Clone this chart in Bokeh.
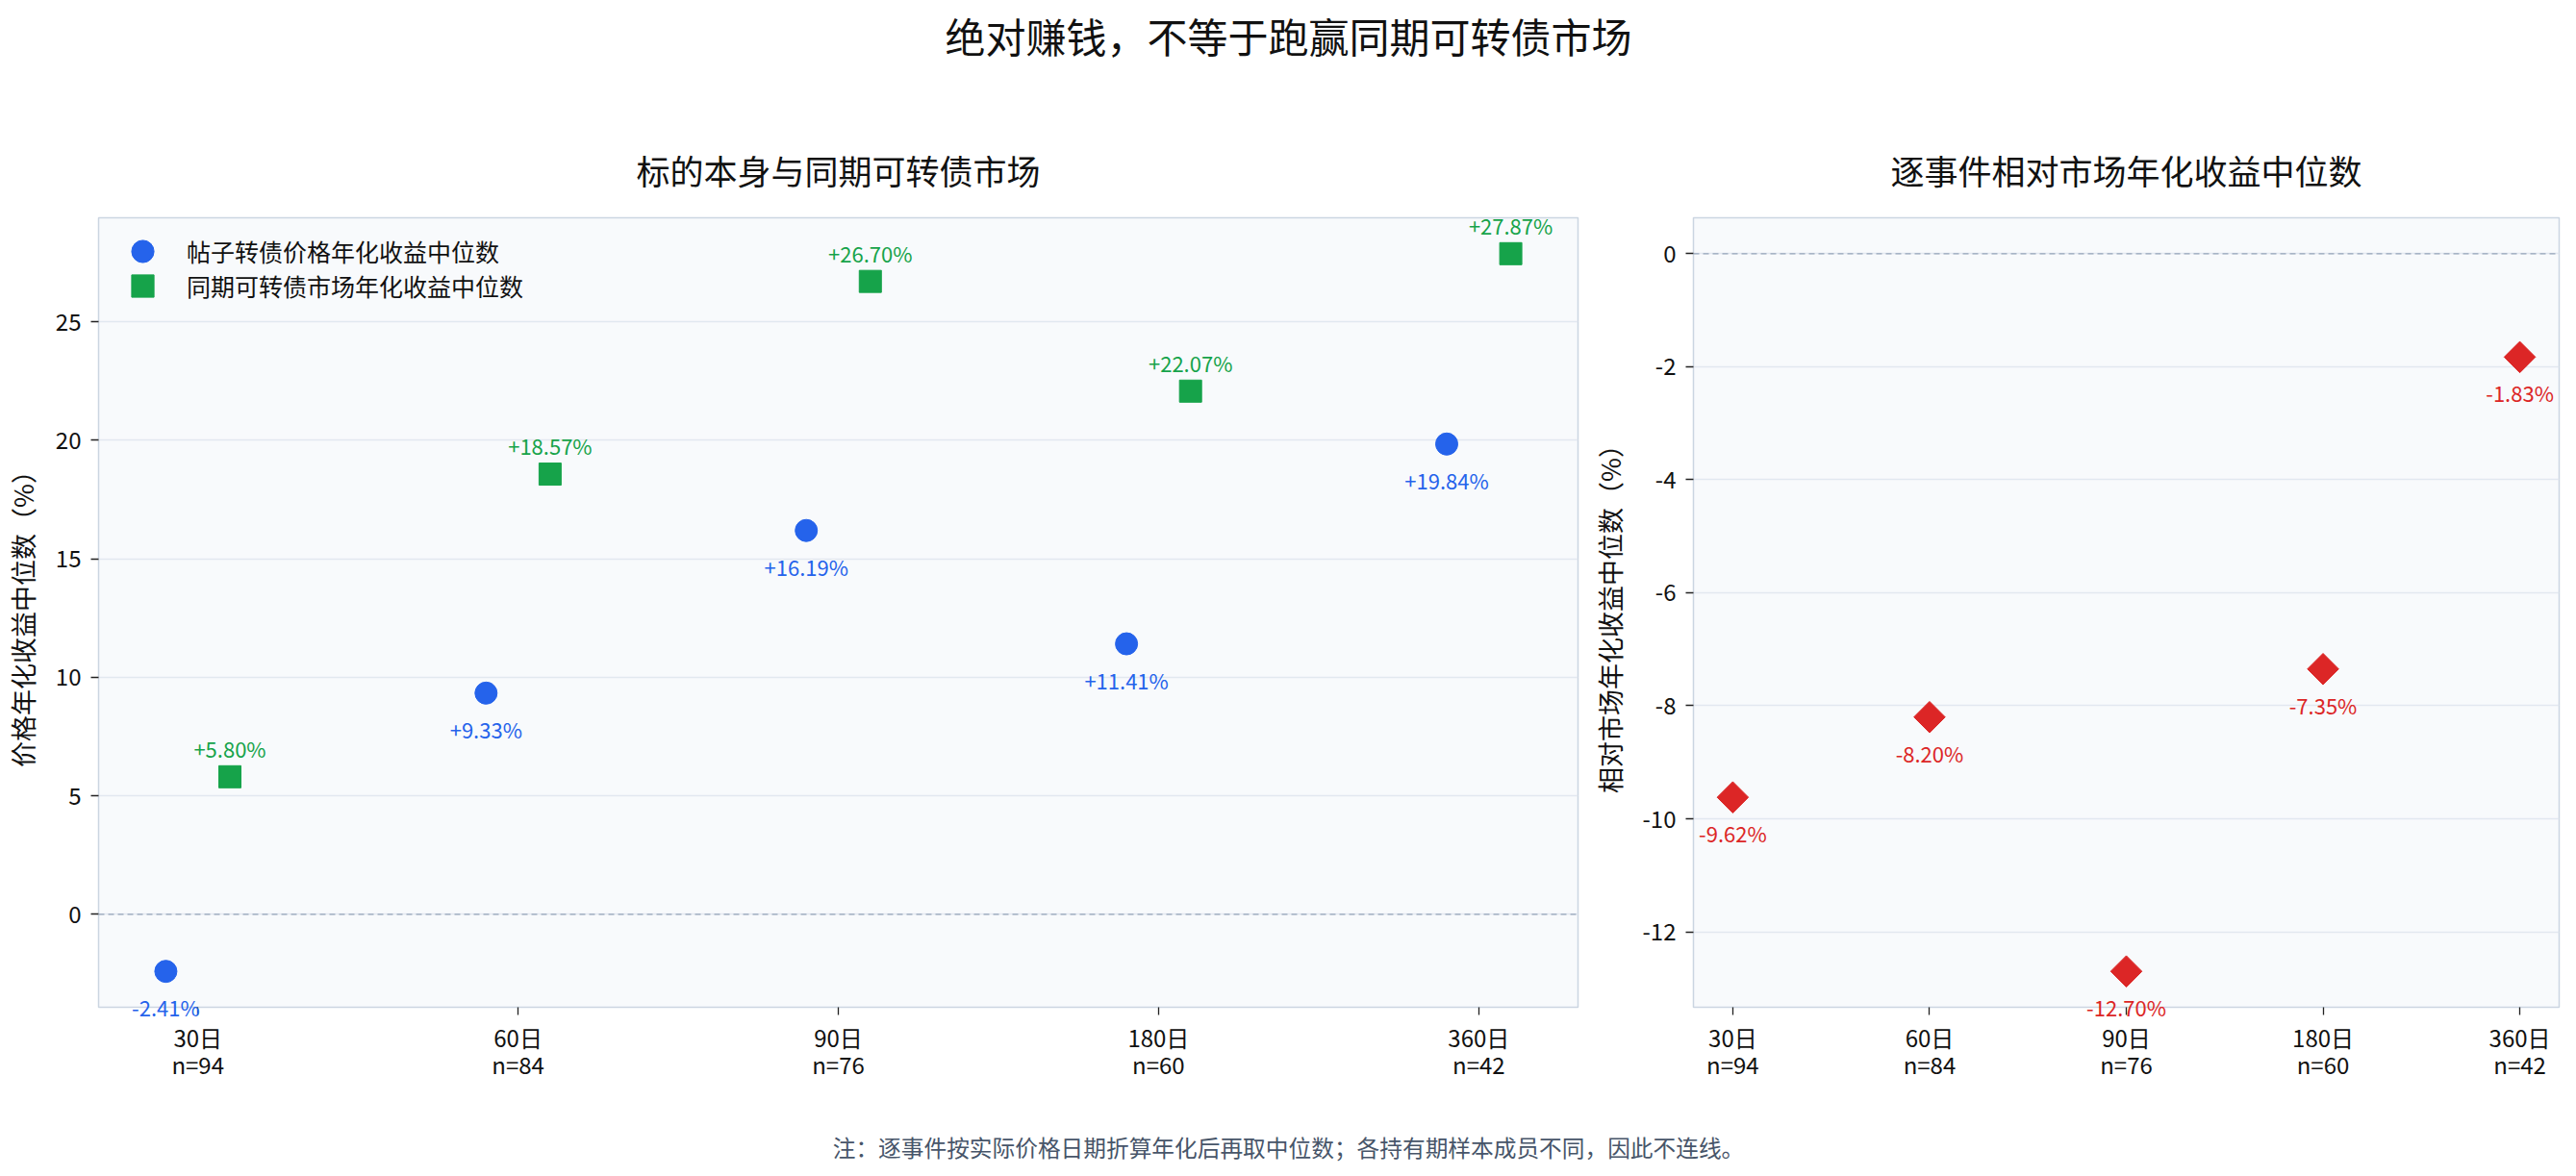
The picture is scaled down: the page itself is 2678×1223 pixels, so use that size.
import numpy as np
from bokeh.plotting import figure
from bokeh.models import (ColumnDataSource, Label, Span, FixedTicker, Range1d,
                          Legend, LegendItem, Title)
from bokeh.layouts import column, row
from bokeh.embed import file_html
from bokeh.resources import INLINE
from bokeh.core.properties import value

# ---------------- data ----------------
periods = ["30日", "60日", "90日", "180日", "360日"]
sample_sizes = [94, 84, 76, 60, 42]
price_median = [-2.41, 9.33, 16.19, 11.41, 19.84]
market_median = [5.80, 18.57, 26.70, 22.07, 27.87]
relative_median = [-9.62, -8.20, -12.70, -7.35, -1.83]
left_yticks = [0, 5, 10, 15, 20, 25]
right_yticks = [0, -2, -4, -6, -8, -10, -12]

main_title = "绝对赚钱，不等于跑赢同期可转债市场"
left_title = "标的本身与同期可转债市场"
right_title = "逐事件相对市场年化收益中位数"
left_ylabel = "价格年化收益中位数（%）"
right_ylabel = "相对市场年化收益中位数（%）"
price_legend = "帖子转债价格年化收益中位数"
market_legend = "同期可转债市场年化收益中位数"
footnote = "注：逐事件按实际价格日期折算年化后再取中位数；各持有期样本成员不同，因此不连线。"

# ---------------- style ----------------
FONT = "Noto Sans CJK SC"
BLUE = "#2563eb"
GREEN = "#16a34a"
RED = "#dc2626"
TOTAL_W = 2678
TOTAL_H = 1223
TITLE_H = 78
TOP_B = 148
FRAME_H = 821
BOT_B = 125
ROW_H = TOP_B + FRAME_H + BOT_B
FOOT_H = TOTAL_H - TITLE_H - ROW_H
FOOT_CENTER = 1192
LEFT_W = 1650
RIGHT_W = TOTAL_W - LEFT_W
DODGE = 0.1
TITLE_STANDOFF = 50


def padded(lo, hi, frac=0.05):
    span = hi - lo
    return lo - frac * span, hi + frac * span


def fmt(v):
    return f"{v:+.2f}%"


pos = np.arange(len(periods), dtype=float)
tick_labels = {i: f"{periods[i]}\nn={sample_sizes[i]}" for i in range(len(periods))}


def style(p, yticks, title_text):
    p.background_fill_color = "#f8fafc"
    p.border_fill_color = "white"
    p.outline_line_color = "#cbd5e1"
    p.outline_line_width = 1.5
    p.xgrid.visible = False
    p.ygrid.grid_line_color = "#e2e8f0"
    p.ygrid.grid_line_width = 1.3
    p.xaxis.ticker = FixedTicker(ticks=list(pos))
    p.xaxis.major_label_overrides = tick_labels
    p.yaxis.ticker = FixedTicker(ticks=yticks)
    p.yaxis.major_label_overrides = {t: f"{t:g}" for t in yticks}
    for ax in p.axis:
        ax.axis_line_color = None
        ax.major_tick_out = 8
        ax.major_tick_in = 0
        ax.minor_tick_line_color = None
        ax.major_tick_line_color = "#222222"
        ax.major_tick_line_width = 1.3
        ax.major_label_text_font = FONT
        ax.major_label_text_font_size = "24px"
        ax.major_label_text_color = "#111111"
        ax.axis_label_text_font = FONT
        ax.axis_label_text_font_size = "27px"
        ax.axis_label_text_font_style = "normal"
        ax.axis_label_text_color = "#111111"
    p.xaxis.major_label_standoff = 5
    p.xaxis.major_label_text_line_height = 0.82
    p.yaxis.major_label_standoff = 10
    p.yaxis.axis_label_standoff = 12
    # title first in the top panel, so it stays next to the frame
    p.add_layout(Title(text=title_text, align="center", text_font=FONT,
                       text_font_size="35px", text_font_style="normal",
                       text_color="#111111", standoff=TITLE_STANDOFF), "above")
    p.add_layout(Span(location=0, dimension="width", line_color="#94a3b8",
                      line_dash="6 4", line_width=1.3))


def add_labels(p, xs, ys, color, offset):
    """Value labels. A label that would cross the frame edge is put in the side
    panel on that edge so it is not clipped; it is still placed with the data scales."""
    lo, hi = p.y_range.start, p.y_range.end
    for x, y in zip(xs, ys):
        lab = Label(x=x, y=y, text=fmt(y), y_offset=offset,
                    text_align="center", text_baseline="middle",
                    text_font=FONT, text_font_size="22px", text_color=color)
        sy = (y - lo) / (hi - lo) * FRAME_H + offset
        if sy > FRAME_H - 14:
            p.add_layout(lab, "above")
        elif sy < 14:
            p.add_layout(lab, "below")
        else:
            p.add_layout(lab)


# ---------------- left chart ----------------
all_left = price_median + market_median + [0]
p1 = figure(width=LEFT_W, height=ROW_H, output_backend="svg", toolbar_location=None,
            title=None,
            x_range=Range1d(*padded(pos.min() - DODGE, pos.max() + DODGE)),
            y_range=Range1d(*padded(min(all_left), max(all_left))),
            min_border_left=102, min_border_right=10, min_border_top=TOP_B,
            min_border_bottom=BOT_B)
p1.yaxis.axis_label = left_ylabel
style(p1, left_yticks, left_title)

src_price = ColumnDataSource(dict(x=pos - DODGE, y=price_median))
src_market = ColumnDataSource(dict(x=pos + DODGE, y=market_median))

r_price = p1.scatter("x", "y", source=src_price, marker="circle", size=23,
                     fill_color=BLUE, line_color=BLUE, line_width=1)
r_market = p1.scatter("x", "y", source=src_market, marker="square", size=23,
                      fill_color=GREEN, line_color=GREEN, line_width=1)

add_labels(p1, pos - DODGE, price_median, BLUE, -37)
add_labels(p1, pos + DODGE, market_median, GREEN, 30)

# legend: one box per entry so the entries can sit closer than the glyph box
LEG_PAD = 7
LEG_GW = 64
LEG_GH = 58
LEG_STEP = 36
leg_h = 2 * LEG_PAD + LEG_GH
for i, (lab, rend) in enumerate([(price_legend, r_price), (market_legend, r_market)]):
    lg = Legend(items=[LegendItem(label=lab, renderers=[rend])],
                location=(14, FRAME_H - LEG_STEP * i - leg_h + 8),
                padding=LEG_PAD, margin=0,
                glyph_width=LEG_GW, glyph_height=LEG_GH, label_height=30,
                spacing=0, label_standoff=14,
                background_fill_alpha=0, border_line_color=None,
                label_text_font=FONT, label_text_font_size="25px",
                label_text_color="#111111")
    p1.add_layout(lg)

# ---------------- right chart ----------------
all_right = relative_median + [0]
p2 = figure(width=RIGHT_W, height=ROW_H, output_backend="svg", toolbar_location=None,
            title=None,
            x_range=Range1d(*padded(pos.min(), pos.max())),
            y_range=Range1d(*padded(min(all_right), max(all_right))),
            min_border_left=106, min_border_right=18, min_border_top=TOP_B,
            min_border_bottom=BOT_B)
p2.yaxis.axis_label = right_ylabel
style(p2, right_yticks, right_title)

src_rel = ColumnDataSource(dict(x=pos, y=relative_median))
p2.scatter("x", "y", source=src_rel, marker="square", angle=np.pi / 4, size=23,
           fill_color=RED, line_color=RED, line_width=1)
add_labels(p2, pos, relative_median, RED, -37)


# ---------------- title & footnote strips ----------------
def text_strip(height, txt, size, color, from_top):
    f = figure(width=TOTAL_W, height=height, output_backend="svg", toolbar_location=None,
               x_range=Range1d(0, TOTAL_W), y_range=Range1d(0, height),
               x_axis_location=None, y_axis_location=None, min_border=0)
    f.outline_line_color = None
    f.grid.visible = False
    f.background_fill_color = "white"
    f.border_fill_color = "white"
    f.text(x=[TOTAL_W / 2], y=[height - from_top], text=[txt], text_align="center",
           text_baseline="middle", text_font=value(FONT), text_font_size=value(size),
           text_color=color)
    return f


title_fig = text_strip(TITLE_H, main_title, "42px", "#111111", 36)
foot_fig = text_strip(FOOT_H, footnote, "23.7px", "#475569",
                      FOOT_CENTER - TITLE_H - ROW_H)

layout = column(title_fig, row(p1, p2), foot_fig)
open("out.html", "w").write(file_html(layout, INLINE))
